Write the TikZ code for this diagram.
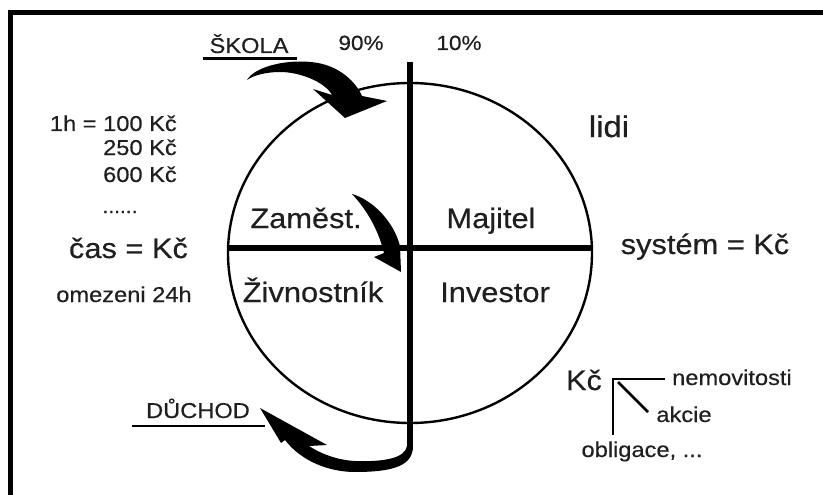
\documentclass[tikz,border=0pt]{standalone}
\usepackage{fontspec}
\setmainfont{Liberation Sans}
\newfontfamily\medfont{Liberation Sans}[FakeBold=0.35]
\newcommand{\hx}[1]{\scalebox{1.1}[1]{#1}}
\tikzset{
  txt/.style={inner sep=0pt, anchor=base, text=black!88},
  small/.style={txt, font=\medfont\fontsize{21.5}{25}\selectfont},
  big/.style={txt, font=\medfont\fontsize{28}{32}\selectfont},
  thickline/.style={line width=6pt},
  treeline/.style={line width=2.6pt},
}
\begin{document}
\begin{tikzpicture}[x=1pt,y=-1pt]
\useasboundingbox (0,0) rectangle (823,495);
\fill[white] (0,0) rectangle (823,495);
% frame
\draw[line width=5pt] (10.5,495) -- (10.5,12.5) -- (823,12.5);
% circle and cross
\draw[line width=2.4pt] (410,253) ellipse [x radius=182pt, y radius=170pt];
\coordinate (hl) at (228,248);
\coordinate (hr) at (592,248);
\coordinate (vt) at (410,62);
\coordinate (vb) at (410,450);
\draw[line width=5.5pt] (hl) -- (hr);
\draw[line width=6.5pt] (vt) -- (vb);
% SKOLA arrow
\fill (247,80) .. controls (255,66) and (290,58) .. (318,63)
  .. controls (340,67) and (356,82) .. (362,96) -- (387,101) -- (345,118) -- (313,89) -- (332,95)
  .. controls (325,82) and (300,72) .. (280,72) .. controls (265,72) and (252,76) .. (247,80) -- cycle;
% Zamest arrow
\fill (352,194) .. controls (373,200) and (394,222) .. (400,246) -- (401,272) -- (374,257) -- (384,253)
  .. controls (379,232) and (368,211) .. (352,194) -- cycle;
% DUCHOD arrow
\fill (407,446) .. controls (405,458) and (385,462) .. (355,461)
  .. controls (335,460) and (318,452) .. (309,446) -- (327,445) -- (260,408) -- (281,443) -- (285,440)
  .. controls (302,462) and (330,472) .. (355,472) .. controls (395,472) and (413,465) .. (413,446) -- cycle;
% top labels
\node[small] (skola) at (249,53) {\hx{ŠKOLA}};
\draw[line width=2.2pt] (203,58.5) -- (297,58.5);
\node[small, font=\medfont\fontsize{20.5}{24}\selectfont] (p90) at (361,50) {\hx{90\%}};
\node[small, font=\medfont\fontsize{20.5}{24}\selectfont] (p10) at (459,50) {\hx{10\%}};
% left texts
\node[small, anchor=base east] (h100) at (177,131) {\hx{1h = 100 Kč}};
\node[small, anchor=base east] (h250) at (177,155) {\hx{250 Kč}};
\node[small, anchor=base east] (h600) at (177,182) {\hx{600 Kč}};
\node[small, font=\medfont\fontsize{19}{22}\selectfont] (dots) at (120,213) {\hx{......}};
\node[big] (cas) at (128.5,258) {\hx{čas = Kč}};
\node[small] (omez) at (124,302) {\hx{omezeni 24h}};
% right texts
\node[big, font=\medfont\fontsize{30}{34}\selectfont] (lidi) at (609,137) {\hx{lidi}};
\node[big] (sys) at (705,254) {\hx{systém = Kč}};
% quadrants
\node[big] (zam) at (306,228) {\hx{Zaměst.}};
\node[big] (maj) at (491,228) {\hx{Majitel}};
\node[big] (ziv) at (313,302) {\hx{Živnostník}};
\node[big] (inv) at (495,302) {\hx{Investor}};
% duchod
\node[small] (duch) at (198,418) {\hx{DŮCHOD}};
\draw[line width=2.2pt] (132,426) -- (265,426);
% Kc tree
\node[big] (kc) at (584,390) {\hx{Kč}};
\node[small] (nemo) at (732,385) {\hx{nemovitosti}};
\node[small] (akc) at (684,422) {\hx{akcie}};
\node[small] (obl) at (642,457) {\hx{obligace, ...}};
\coordinate (kcr) at (613,379);
\coordinate (kn) at (665,379);
\coordinate (ka0) at (618,382);
\coordinate (ka) at (648,412);
\coordinate (ko) at (613,435);
\draw[treeline] (kn) -- (kcr) -- (ko);
\draw[treeline] (ka0) -- (ka);
\end{tikzpicture}
\end{document}
